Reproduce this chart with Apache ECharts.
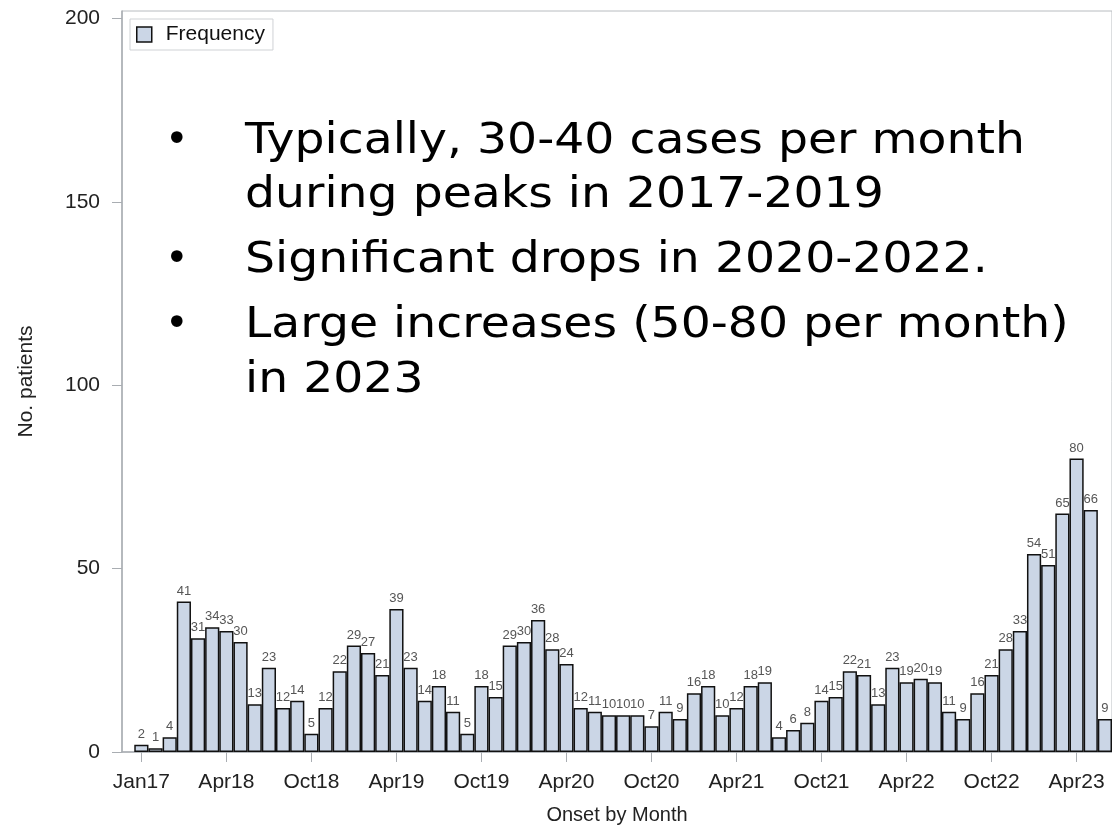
<!DOCTYPE html>
<html>
<head>
<meta charset="utf-8">
<script src="https://cdn.jsdelivr.net/npm/echarts@6/dist/echarts.min.js"></script>
<style>
  html, body { margin: 0; padding: 0; background: #fff; }
  #chart { width: 1112px; height: 834px; }
</style>
</head>
<body>
<div id="chart"></div>
<script>
// monthly counts, one bar per month (first tick sits on the first bar)
const counts = [
  2, 1, 4, 41, 31, 34, 33, 30, 13, 23, 12, 14,
  5, 12, 22, 29, 27, 21, 39, 23, 14, 18, 11, 5,
  18, 15, 29, 30, 36, 28, 24, 12, 11, 10, 10, 10,
  7, 11, 9, 16, 18, 10, 12, 18, 19, 4, 6, 8,
  14, 15, 22, 21, 13, 23, 19, 20, 19, 11, 9, 16,
  21, 28, 33, 54, 51, 65, 80, 66, 9
]
// tick labels, one every 6 bars
const tickIdx = [0, 6, 12, 18, 24, 30, 36, 42, 48, 54, 60, 66]
const tickLabels = ['Jan17', 'Apr18', 'Oct18', 'Apr19', 'Oct19', 'Apr20',
  'Oct20', 'Apr21', 'Oct21', 'Apr22', 'Oct22', 'Apr23']
const yTicks = [0, 50, 100, 150, 200]

const notes = [
  { bullet: true, text: 'Typically, 30-40 cases per month', y: 142 },
  { bullet: false, text: 'during peaks in 2017-2019', y: 196 },
  { bullet: true, text: 'Significant drops in 2020-2022.', y: 261 },
  { bullet: true, text: 'Large increases (50-80 per month)', y: 326 },
  { bullet: false, text: 'in 2023', y: 381 }
]

const sasFont = '"Liberation Sans", Arial, sans-serif'
const axisGray = '#a9adb2'

const chart = echarts.init(document.getElementById('chart'))

const graphics = []
notes.forEach(n => {
  if (n.bullet) {
    graphics.push({
      type: 'text', x: 165, y: n.y,
      style: { text: '•', font: '40px "DejaVu Sans"', fill: '#000', verticalAlign: 'middle' }
    })
  }
  graphics.push({
    type: 'text', x: 245, y: n.y, scaleX: 1.1,
    style: { text: n.text, font: '43px "DejaVu Sans"', fill: '#000', verticalAlign: 'middle' }
  })
})

chart.setOption({
  animation: false,
  backgroundColor: '#fff',
  textStyle: { fontFamily: sasFont },
  grid: {
    left: 122, right: -1, top: 11, bottom: 82,
    show: true, borderColor: '#b8bcc0', borderWidth: 1
  },
  legend: {
    data: ['Frequency'],
    left: 130, top: 19,
    padding: [5, 8, 5, 6],
    borderColor: '#cfd2d5', borderWidth: 1,
    itemWidth: 15, itemHeight: 15,
    icon: 'rect',
    itemStyle: { color: '#cbd6e6', borderColor: '#111', borderWidth: 1.5 },
    textStyle: { fontSize: 21, color: '#111', padding: [0, 0, 0, 9], fontFamily: sasFont }
  },
  xAxis: {
    type: 'value',
    min: -1.367, max: 68.5,
    name: 'Onset by Month',
    nameLocation: 'middle',
    nameGap: 53,
    nameTextStyle: { fontSize: 20, color: '#222' },
    splitLine: { show: false },
    axisLine: { show: true, onZero: false, lineStyle: { color: axisGray, width: 1.5 } },
    axisTick: { show: true, length: 10, customValues: tickIdx, lineStyle: { color: axisGray } },
    axisLabel: {
      customValues: tickIdx,
      margin: 20, fontSize: 21, color: '#222',
      formatter: v => tickLabels[tickIdx.indexOf(Math.round(v))] || ''
    }
  },
  yAxis: {
    type: 'value',
    min: 0, max: 202,
    name: 'No. patients',
    nameLocation: 'middle',
    nameGap: 85,
    nameTextStyle: { fontSize: 21, color: '#222' },
    splitLine: { show: false },
    axisLine: { show: true, onZero: false, lineStyle: { color: axisGray, width: 1.5 } },
    axisTick: { show: true, length: 10, customValues: yTicks, lineStyle: { color: axisGray } },
    axisLabel: { customValues: yTicks, margin: 22, fontSize: 21, color: '#222' }
  },
  series: [{
    name: 'Frequency',
    type: 'bar',
    barWidth: 14.2,
    data: counts.map((v, i) => [i, v]),
    itemStyle: { color: '#cbd6e6', borderColor: '#111', borderWidth: 1.5 },
    label: {
      show: true, position: 'top', distance: 4,
      fontSize: 13, color: '#555', fontFamily: sasFont
    }
  }],
  graphic: graphics
})
</script>
</body>
</html>
